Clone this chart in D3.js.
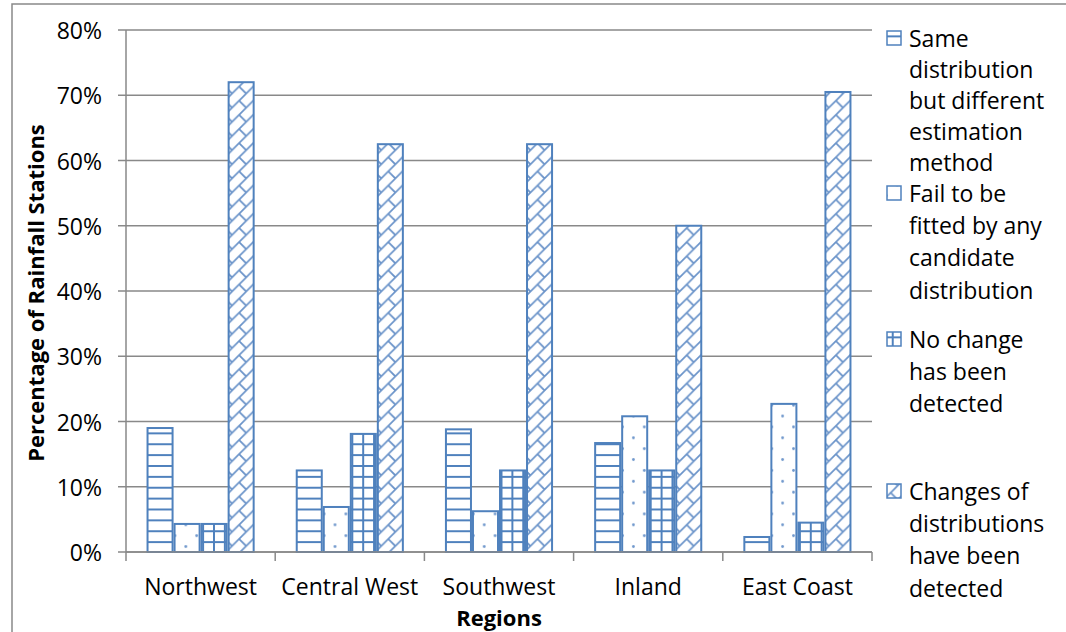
<!DOCTYPE html>
<html>
<head>
<meta charset="utf-8">
<script src="https://cdn.jsdelivr.net/npm/d3@7"></script>
<style>
  html, body { margin: 0; padding: 0; background: #fff; }
  svg { display: block; font-family: "Open Sans", "Noto Sans", sans-serif; }
</style>
</head>
<body>
<svg id="chart" width="1066" height="632"></svg>
<script>
// Share of rainfall stations per region, by outcome of the distribution analysis
const regions = ["Northwest", "Central West", "Southwest", "Inland", "East Coast"];
const seriesNames = [
  "Same distribution but different estimation method",
  "Fail to be fitted by any candidate distribution",
  "No change has been detected",
  "Changes of distributions have been detected"
];
const sameDist   = [19.0, 12.5, 18.8, 16.7, 2.3];
const failFit    = [4.3, 6.9, 6.25, 20.8, 22.7];
const noChange   = [4.3, 18.1, 12.5, 12.5, 4.5];
const changes    = [72.0, 62.5, 62.5, 50.0, 70.5];
const seriesValues = [sameDist, failFit, noChange, changes];
const yTicks = [0, 10, 20, 30, 40, 50, 60, 70, 80];

// Legend text, wrapped as in the legend box
const legendLines = [
  ["Same", "distribution", "but different", "estimation", "method"],
  ["Fail to be", "fitted by any", "candidate", "distribution"],
  ["No change", "has been", "detected"],
  ["Changes of", "distributions", "have been", "detected"]
];

const blue = "#4f81bd";
const grey = "#898989";
const svg = d3.select("#chart");

const plot = { left: 126, right: 872, top: 30, bottom: 552 };

const y = d3.scaleLinear().domain([0, 80]).range([plot.bottom, plot.top]);
const x0 = d3.scaleBand().domain(regions).range([plot.left, plot.right]).padding(0);
const x1 = d3.scaleBand().domain(d3.range(seriesNames.length))
  .range([0, x0.bandwidth()]).paddingInner(0).paddingOuter(0.76);

// ---- fill patterns ----
const unit = (y(0) - y(10)) / 6;   // pattern cell size, tied to the gridline spacing
const defs = svg.append("defs");

function pattern(id, w, h) {
  const p = defs.append("pattern").attr("id", id)
    .attr("patternUnits", "userSpaceOnUse")
    .attr("x", 0).attr("y", plot.top)
    .attr("width", w).attr("height", h);
  p.append("rect").attr("width", w).attr("height", h).attr("fill", "#fff");
  return p;
}
// horizontal lines
pattern("pHoriz", unit, unit).append("line")
  .attr("x1", 0).attr("x2", unit).attr("y1", 1).attr("y2", 1)
  .attr("stroke", blue).attr("stroke-width", 2);
// sparse dots
{
  const p = pattern("pDots", unit * 2, unit * 2);
  [[unit * 0.5, unit * 0.5], [unit * 1.5, unit * 1.5]].forEach(([cx, cy]) =>
    p.append("circle").attr("cx", cx).attr("cy", cy).attr("r", 1.4).attr("fill", "#6f97cc"));
}
// grid
{
  const p = pattern("pGrid", unit, unit);
  p.append("line").attr("x1", 0).attr("x2", unit).attr("y1", 1).attr("y2", 1)
    .attr("stroke", blue).attr("stroke-width", 2);
  p.append("line").attr("x1", 1).attr("x2", 1).attr("y1", 0).attr("y2", unit)
    .attr("stroke", blue).attr("stroke-width", 2);
}
// diagonal brick
{
  const s = unit * 1.3;
  const p = pattern("pBrick", s, s);
  const col = "#6a93c9";
  p.append("path")
    .attr("d", `M${-1},${s + 1}L${s + 1},${-1}M0,0L${s / 2},${s / 2}M${-1},${1}L${1},${-1}M${s - 1},${s + 1}L${s + 1},${s - 1}`)
    .attr("fill", "none").attr("stroke", col).attr("stroke-width", 1.7);
}
const fills = ["url(#pHoriz)", "url(#pDots)", "url(#pGrid)", "url(#pBrick)"];

// ---- outer frame ----
svg.append("path")
  .attr("d", "M12,640V4H1070")
  .attr("fill", "none").attr("stroke", grey).attr("stroke-width", 1.5);

// ---- gridlines and y axis ----
svg.append("g").selectAll("line").data(yTicks).join("line")
  .attr("x1", plot.left - 8).attr("x2", plot.right)
  .attr("y1", d => y(d)).attr("y2", d => y(d))
  .attr("stroke", grey).attr("stroke-width", 1.5);

svg.append("line")
  .attr("x1", plot.left).attr("x2", plot.left)
  .attr("y1", plot.top).attr("y2", plot.bottom)
  .attr("stroke", grey).attr("stroke-width", 1.5);

svg.append("g").selectAll("text").data(yTicks).join("text")
  .attr("x", 102).attr("y", d => y(d))
  .attr("text-anchor", "end").attr("dominant-baseline", "central")
  .attr("font-size", 23).attr("fill", "#000")
  .text(d => d + "%");

// x axis ticks at category boundaries
const bounds = regions.map(r => x0(r)).concat([plot.right]);
svg.append("g").selectAll("line").data(bounds).join("line")
  .attr("x1", d => d).attr("x2", d => d)
  .attr("y1", plot.bottom).attr("y2", plot.bottom + 9)
  .attr("stroke", grey).attr("stroke-width", 1.5);

// ---- bars ----
const groups = svg.append("g").selectAll("g").data(regions).join("g")
  .attr("transform", r => `translate(${x0(r)},0)`);
groups.selectAll("rect")
  .data((r, i) => seriesValues.map((vals, s) => ({ s, v: vals[i] })))
  .join("rect")
  .attr("x", d => x1(d.s) + 1)
  .attr("width", x1.bandwidth() - 2)
  .attr("y", d => y(d.v))
  .attr("height", d => y(0) - y(d.v))
  .attr("fill", d => fills[d.s])
  .attr("stroke", blue).attr("stroke-width", 2);

// x axis baseline drawn over the bar bottoms
svg.append("line")
  .attr("x1", plot.left).attr("x2", plot.right)
  .attr("y1", plot.bottom).attr("y2", plot.bottom)
  .attr("stroke", grey).attr("stroke-width", 1.5);

// category labels
svg.append("g").selectAll("text").data(regions).join("text")
  .attr("x", r => x0(r) + x0.bandwidth() / 2).attr("y", 586)
  .attr("text-anchor", "middle").attr("dominant-baseline", "central")
  .attr("font-size", 23).text(r => r);

// axis titles
svg.append("text")
  .attr("x", 499).attr("y", 617)
  .attr("text-anchor", "middle").attr("dominant-baseline", "central")
  .attr("font-size", 22).attr("font-weight", "bold").text("Regions");

svg.append("text")
  .attr("transform", "translate(35,293) rotate(-90)")
  .attr("text-anchor", "middle").attr("dominant-baseline", "central")
  .attr("font-size", 22).attr("font-weight", "bold").text("Percentage of Rainfall Stations");

// ---- legend ----
const legendTop = [38, 193, 339, 491];
const lineH = [31, 32.2, 32.2, 32.2];
const legend = svg.append("g").selectAll("g").data(seriesNames).join("g")
  .attr("transform", (d, i) => `translate(0,${legendTop[i]})`);
legend.append("rect")
  .attr("x", 887).attr("y", -7).attr("width", 14).attr("height", 14)
  .attr("fill", (d, i) => fills[i]).attr("stroke", blue).attr("stroke-width", 1.5);
legend.append("text")
  .attr("font-size", 23)
  .each(function (d, i) {
    d3.select(this).selectAll("tspan").data(legendLines[i]).join("tspan")
      .attr("x", 909).attr("y", (t, j) => j * lineH[i])
      .attr("dominant-baseline", "central")
      .text(t => t);
  });
</script>
</body>
</html>
